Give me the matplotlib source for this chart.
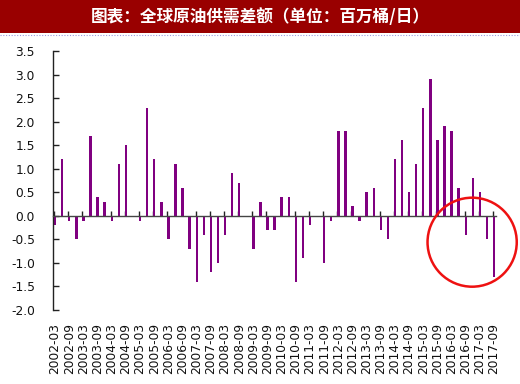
import matplotlib
matplotlib.use("Agg")
import matplotlib.pyplot as plt
from matplotlib.patches import Rectangle, Ellipse
from matplotlib.lines import Line2D
import numpy as np

plt.rcParams['font.family'] = ['DejaVu Sans']

title_text = "图表：全球原油供需差额（单位：百万桶/日）"

# quarterly periods 2002Q1 .. 2017Q3
values = [-0.2, 1.2, -0.1, -0.5, -0.1, 1.7, 0.4, 0.3, -0.1, 1.1,
          1.5, 0.0, -0.1, 2.3, 1.2, 0.3, -0.5, 1.1, 0.6, -0.7,
          -1.4, -0.4, -1.2, -1.0, -0.4, 0.9, 0.7, 0.0, -0.7, 0.3,
          -0.3, -0.3, 0.4, 0.4, -1.4, -0.9, -0.2, 0.0, -1.0, -0.1,
          1.8, 1.8, 0.2, -0.1, 0.5, 0.6, -0.3, -0.5, 1.2, 1.6,
          0.5, 1.1, 2.3, 2.9, 1.6, 1.9, 1.8, 0.6, -0.4, 0.8,
          0.5, -0.5, -1.3]
tick_labels = [f"{y}-{m}" for y in range(2002, 2018) for m in ("03", "09")]
y_ticks = [-2.0, -1.5, -1.0, -0.5, 0.0, 0.5, 1.0, 1.5, 2.0, 2.5, 3.0, 3.5]

W, H = 520, 384
fig = plt.figure(figsize=(W / 100, H / 100), dpi=100)

# title bar
fig.patches.append(Rectangle((0, 1 - 33 / H), 1, 33 / H, transform=fig.transFigure,
                             facecolor="#990000", edgecolor="none", zorder=0))
fig.lines.append(Line2D([0, 1], [1 - 34.5 / H, 1 - 34.5 / H], transform=fig.transFigure,
                        color="#9999dd", linestyle=(0, (1, 1.5)), linewidth=0.8))
fig.text(0.5, 1 - 17 / H, title_text, color="white", fontsize=12, fontweight="bold",
         ha="center", va="center", family=["Noto Sans CJK SC", "DejaVu Sans"])

left, right = 53 / W, 495.5 / W
bottom, top = 1 - 310 / H, 1 - 51 / H
ax = fig.add_axes([left, bottom, right - left, top - bottom])

x = np.arange(len(values))
ax.bar(x, values, width=0.34, color="#800080", zorder=2)

ax.set_xlim(-0.3, 62.2)
ax.set_ylim(-2.0, 3.5)
ax.set_yticks(y_ticks)
ax.set_yticklabels([f"{v:.1f}" for v in y_ticks])

for s in ("top", "right"):
    ax.spines[s].set_visible(False)
ax.spines["left"].set_color("#222222")
ax.spines["left"].set_linewidth(1.0)
ax.spines["bottom"].set_position(("data", 0))
ax.spines["bottom"].set_color("#444444")
ax.spines["bottom"].set_linewidth(1.0)

ax.tick_params(axis="y", direction="in", length=4, width=1, color="#222222",
               labelsize=8.8, pad=13, labelcolor="#111111")
ax.set_xticks(x[::2] - 0.15)
ax.tick_params(axis="x", direction="in", length=3.5, width=1, color="#222222",
               labelbottom=False)

sec = ax.secondary_xaxis("bottom")
sec.set_xticks(x[::2], labels=tick_labels, rotation=90)
sec.tick_params(length=0, pad=9, labelsize=8.8, labelcolor="#111111")
sec.spines["bottom"].set_visible(False)

# red circle annotation
circ = Ellipse((58.9, -0.56), width=12.6, height=1.89, transform=ax.transData,
               fill=False, edgecolor="#ee1111", linewidth=1.8, clip_on=False, zorder=3)
ax.add_patch(circ)

fig.savefig("out.png", dpi=100)
